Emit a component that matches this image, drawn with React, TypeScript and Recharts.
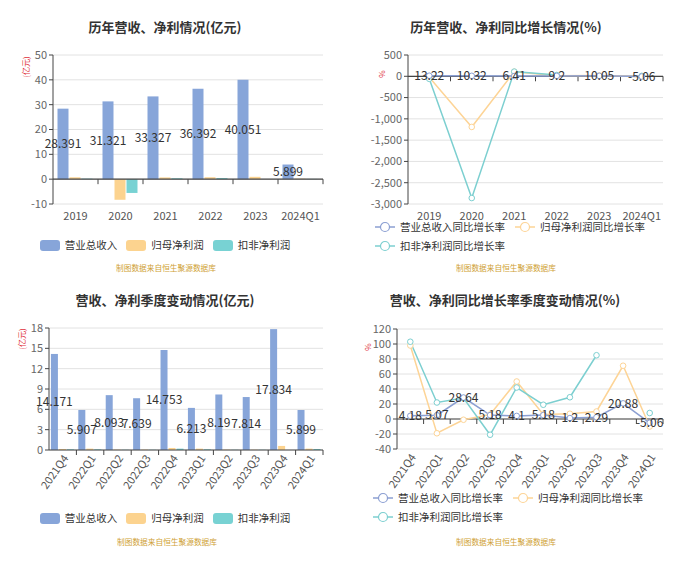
import React from 'react';
import { BarChart, Bar, ComposedChart, Line, XAxis, YAxis, CartesianGrid, ReferenceLine, LabelList } from 'recharts';

// ---------- data ----------
const years = ['2019', '2020', '2021', '2022', '2023', '2024Q1'];
const annualRevenue = [28.391, 31.321, 33.327, 36.392, 40.051, 5.899];
const annualNetProfit = [0.75, -8.3, 0.7, 0.78, 0.95, 0.2];
const annualDeducted = [0.2, -5.55, 0.35, 0.45, null, 0.1];
const annualRevGrowth = [13.22, 10.32, 6.41, 9.2, 10.05, -5.06];
const annualNetGrowth = [-25, -1190, 108, 10, 20, -10];
const annualDedGrowth = [-60, -2860, 110, 30, null, 10];

const quarters = ['2021Q4', '2022Q1', '2022Q2', '2022Q3', '2022Q4', '2023Q1', '2023Q2', '2023Q3', '2023Q4', '2024Q1'];
const quarterRevenue = [14.171, 5.907, 8.093, 7.639, 14.753, 6.213, 8.19, 7.814, 17.834, 5.899];
const quarterNetProfit = [0.15, 0.2, 0.05, 0.05, 0.3, 0.2, 0.05, 0.05, 0.6, 0.2];
const quarterDeducted = [0.1, 0.1, 0.03, 0.03, 0.2, 0.1, 0.03, 0.03, null, 0.15];
const quarterRevGrowth = [4.18, 5.07, 28.64, 5.18, 4.1, 5.18, 1.2, 2.29, 20.88, -5.06];
const quarterNetGrowth = [98, -19, -1, 6, 50, 6, 7, 10, 71, -10];
const quarterDedGrowth = [103, 22, 28, -21, 42, 19, 29, 85, null, 8];

const annualTicks = [-10, 0, 10, 20, 30, 40, 50];
const annualGrowthTicks = [-3000, -2500, -2000, -1500, -1000, -500, 0, 500];
const quarterTicks = [0, 3, 6, 9, 12, 15, 18];
const quarterGrowthTicks = [-40, -20, 0, 20, 40, 60, 80, 100, 120];

const barLegend = ['营业总收入', '归母净利润', '扣非净利润'];
const lineLegend = ['营业总收入同比增长率', '归母净利润同比增长率', '扣非净利润同比增长率'];
const sourceText = '制图数据来自恒生聚源数据库';

// ---------- tables ----------
const annualData = years.map((name, i) => ({ name, revenue: annualRevenue[i], net: annualNetProfit[i], ded: annualDeducted[i] }));
const annualGrowthData = years.map((name, i) => ({ name, revenue: annualRevGrowth[i], net: annualNetGrowth[i], ded: annualDedGrowth[i] }));
const quarterData = quarters.map((name, i) => ({ name, revenue: quarterRevenue[i], net: quarterNetProfit[i], ded: quarterDeducted[i] }));
const quarterGrowthData = quarters.map((name, i) => ({ name, revenue: quarterRevGrowth[i], net: quarterNetGrowth[i], ded: quarterDedGrowth[i] }));

// ---------- styles ----------
const FONT = '"Noto Sans CJK SC", "Noto Sans", sans-serif';
const BLUE = '#87a5d9';
const ORANGE = '#fcd38f';
const TEAL = '#78d2d3';
const LBLUE = '#8b9fd2';
const LORANGE = '#fdd496';
const LTEAL = '#7ccfd0';
const AXIS = '#444';
const GRID = '#e2e2e2';
const TICK_FILL = '#666';
const colors = [BLUE, ORANGE, TEAL];
const lineColors = [LBLUE, LORANGE, LTEAL];

const zeroAxis = (n: number) => (props: any) => {
  const { x1, y1, x2, y2 } = props;
  const step = (x2 - x1) / n;
  const ticks = [];
  for (let i = 1; i <= n; i++) {
    ticks.push(<line key={i} x1={x1 + step * i} x2={x1 + step * i} y1={y1} y2={y1 + 5} stroke={AXIS} strokeWidth={1} />);
  }
  return (
    <g>
      <line x1={x1} y1={y1} x2={x2} y2={y2} stroke={AXIS} strokeWidth={1.2} />
      {ticks}
    </g>
  );
};

const RotTick = (props: any) => {
  const { x, y, payload } = props;
  return (
    <g transform={`translate(${x + 3},${y - 2})`}>
      <text x={0} y={0} dy={4} textAnchor="end" transform="rotate(-55)" fontSize={11} fill="#555">
        {payload.value}
      </text>
    </g>
  );
};

const Title = ({ text, cx, top }: { text: string; cx: number; top: number }) => (
  <div style={{ position: 'absolute', left: cx - 150, width: 300, top, textAlign: 'center', fontSize: 13, fontWeight: 'bold', color: '#333', lineHeight: '16px' }}>{text}</div>
);

const Unit = ({ text, cx, cy }: { text: string; cx: number; cy: number }) => (
  <div style={{ position: 'absolute', left: cx - 20, top: cy - 5, width: 40, height: 10, lineHeight: '10px', textAlign: 'center', fontSize: 8, color: '#e0303a', transform: 'rotate(-90deg)' }}>{text}</div>
);

const Source = ({ cx, cy }: { cx: number; cy: number }) => (
  <div style={{ position: 'absolute', left: cx - 100, width: 200, top: cy - 6, lineHeight: '12px', textAlign: 'center', fontSize: 7.7, color: '#cf9f35' }}>{sourceText}</div>
);

const BarLegend = ({ cx, cy }: { cx: number; cy: number }) => (
  <div style={{ position: 'absolute', left: cx - 165, width: 330, top: cy - 7, height: 14, display: 'flex', justifyContent: 'center', alignItems: 'center', gap: 9 }}>
    {barLegend.map((t, i) => (
      <div key={t} style={{ display: 'flex', alignItems: 'center' }}>
        <div style={{ width: 20, height: 11, borderRadius: 3, background: colors[i], marginRight: 5 }} />
        <span style={{ fontSize: 10.5, color: '#333', lineHeight: '14px' }}>{t}</span>
      </div>
    ))}
  </div>
);

const LineLegend = ({ left, top, width }: { left: number; top: number; width: number }) => (
  <div style={{ position: 'absolute', left, top, width, display: 'flex', flexWrap: 'wrap', columnGap: 10 }}>
    {lineLegend.map((t, i) => (
      <div key={t} style={{ display: 'flex', alignItems: 'center', height: 18.5 }}>
        <svg width={20} height={12} style={{ marginRight: 5 }}>
          <line x1={0} x2={20} y1={6} y2={6} stroke={lineColors[i]} strokeWidth={1.5} />
          <circle cx={10} cy={6} r={4.5} fill="#fff" stroke={lineColors[i]} strokeWidth={1.2} />
        </svg>
        <span style={{ fontSize: 10.5, color: '#333', lineHeight: '14px' }}>{t}</span>
      </div>
    ))}
  </div>
);

const yAxisProps = {
  axisLine: { stroke: AXIS },
  tickLine: { stroke: AXIS },
  tickSize: 4,
  tick: { fontSize: 11, fill: TICK_FILL },
  interval: 0 as const,
};

const dot = (c: string) => ({ r: 2.8, fill: '#fff', stroke: c, strokeWidth: 1 });

export default function App() {
  return (
    <div style={{ position: 'absolute', left: 0, top: 0, width: 700, height: 574, background: '#fff', fontFamily: FONT, overflow: 'hidden' }}>
      {/* Panel 1 */}
      <div style={{ position: 'absolute', left: 0, top: 0, width: 350, height: 287 }}>
        <Title text="历年营收、净利情况(亿元)" cx={165} top={19} />
        <div style={{ position: 'absolute', left: 0, top: 0 }}>
          <BarChart width={350} height={232} data={annualData} margin={{ top: 55, right: 27, bottom: 0, left: 13 }} barCategoryGap="10%" barGap={1}>
            <CartesianGrid vertical={false} stroke={GRID} />
            <XAxis dataKey="name" axisLine={false} tickLine={false} tick={{ fontSize: 11, fill: '#555' }} height={28} interval={0} />
            <YAxis width={40} domain={[-10, 50]} ticks={annualTicks} {...yAxisProps} />
            <Bar dataKey="revenue" fill={BLUE} isAnimationActive={false}>
              <LabelList dataKey="revenue" position="center" fontSize={12} fill="#333" />
            </Bar>
            <Bar dataKey="net" fill={ORANGE} isAnimationActive={false} />
            <Bar dataKey="ded" fill={TEAL} isAnimationActive={false} />
            <ReferenceLine y={0} shape={zeroAxis(years.length)} />
          </BarChart>
        </div>
        <Unit text="(亿元)" cx={26} cy={67} />
        <BarLegend cx={165} cy={245} />
        <Source cx={166} cy={268} />
      </div>

      {/* Panel 2 */}
      <div style={{ position: 'absolute', left: 350, top: 0, width: 350, height: 287 }}>
        <Title text="历年营收、净利同比增长情况(%)" cx={156} top={19} />
        <div style={{ position: 'absolute', left: 0, top: 0 }}>
          <ComposedChart width={350} height={232} data={annualGrowthData} margin={{ top: 55, right: 37, bottom: 0, left: 12 }}>
            <CartesianGrid vertical={false} stroke={GRID} />
            <XAxis dataKey="name" scale="band" axisLine={false} tickLine={false} tick={{ fontSize: 11, fill: '#555' }} height={28} interval={0} />
            <YAxis width={46} domain={[-3000, 500]} ticks={annualGrowthTicks} tickFormatter={(v: number) => v.toLocaleString('en-US')} {...yAxisProps} />
            <ReferenceLine y={0} shape={zeroAxis(years.length)} />
            <Line type="linear" dataKey="net" stroke={LORANGE} strokeWidth={1.5} dot={dot(LORANGE)} isAnimationActive={false} />
            <Line type="linear" dataKey="ded" stroke={LTEAL} strokeWidth={1.5} dot={dot(LTEAL)} isAnimationActive={false} />
            <Line type="linear" dataKey="revenue" stroke={LBLUE} strokeWidth={1.5} dot={dot(LBLUE)} isAnimationActive={false}>
              <LabelList dataKey="revenue" position="center" fontSize={12} fill="#333" />
            </Line>
          </ComposedChart>
        </div>
        <Unit text="%" cx={32} cy={74} />
        <LineLegend left={25} top={218} width={275} />
        <Source cx={156} cy={268} />
      </div>

      {/* Panel 3 */}
      <div style={{ position: 'absolute', left: 0, top: 285, width: 350, height: 289 }}>
        <Title text="营收、净利季度变动情况(亿元)" cx={165} top={7} />
        <div style={{ position: 'absolute', left: 0, top: 0 }}>
          <BarChart width={350} height={212} data={quarterData} margin={{ top: 43, right: 27, bottom: 0, left: 9 }} barCategoryGap="7%" barGap={1}>
            <CartesianGrid vertical={false} stroke={GRID} />
            <XAxis dataKey="name" axisLine={false} tickLine={false} tick={<RotTick />} height={47} interval={0} />
            <YAxis width={40} domain={[0, 18]} ticks={quarterTicks} {...yAxisProps} />
            <Bar dataKey="revenue" fill={BLUE} isAnimationActive={false}>
              <LabelList dataKey="revenue" position="center" fontSize={12} fill="#333" />
            </Bar>
            <Bar dataKey="net" fill={ORANGE} isAnimationActive={false} />
            <Bar dataKey="ded" fill={TEAL} isAnimationActive={false} />
            <ReferenceLine y={0} shape={zeroAxis(quarters.length)} />
          </BarChart>
        </div>
        <Unit text="(亿元)" cx={22} cy={54} />
        <BarLegend cx={165} cy={233} />
        <Source cx={167} cy={257} />
      </div>

      {/* Panel 4 */}
      <div style={{ position: 'absolute', left: 350, top: 285, width: 350, height: 289 }}>
        <Title text="营收、净利同比增长率季度变动情况(%)" cx={155} top={7} />
        <div style={{ position: 'absolute', left: 0, top: 0 }}>
          <ComposedChart width={350} height={211} data={quarterGrowthData} margin={{ top: 44, right: 37, bottom: 0, left: 9 }}>
            <CartesianGrid vertical={false} stroke={GRID} />
            <XAxis dataKey="name" scale="band" axisLine={false} tickLine={false} tick={<RotTick />} height={47} interval={0} />
            <YAxis width={38} domain={[-40, 120]} ticks={quarterGrowthTicks} {...yAxisProps} />
            <ReferenceLine y={0} shape={zeroAxis(quarters.length)} />
            <Line type="linear" dataKey="net" stroke={LORANGE} strokeWidth={1.5} dot={dot(LORANGE)} isAnimationActive={false} />
            <Line type="linear" dataKey="ded" stroke={LTEAL} strokeWidth={1.5} dot={dot(LTEAL)} isAnimationActive={false} />
            <Line type="linear" dataKey="revenue" stroke={LBLUE} strokeWidth={1.5} dot={dot(LBLUE)} isAnimationActive={false}>
              <LabelList dataKey="revenue" position="center" fontSize={12} fill="#333" />
            </Line>
          </ComposedChart>
        </div>
        <Unit text="%" cx={18} cy={62} />
        <LineLegend left={23} top={204} width={275} />
        <Source cx={156} cy={257} />
      </div>
    </div>
  );
}
